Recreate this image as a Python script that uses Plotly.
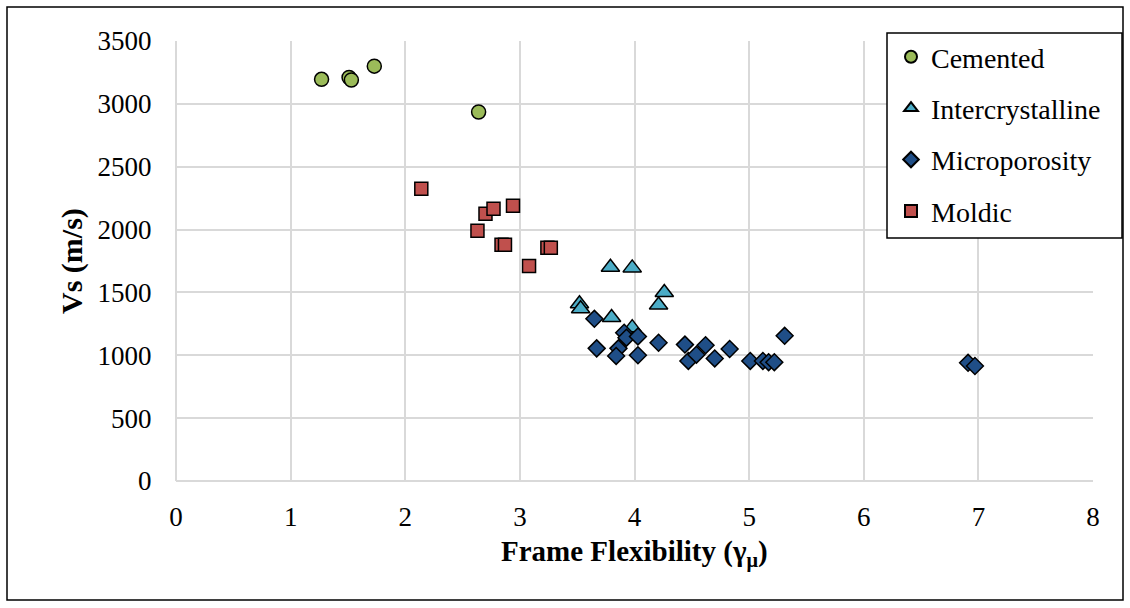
import plotly.graph_objects as go

# ---- data ----
cemented_x = [1.27, 1.51, 1.53, 1.73, 2.64]
cemented_y = [3195, 3210, 3190, 3300, 2935]

intercrystalline_x = [3.79, 3.98, 4.26, 4.21, 3.52, 3.53, 3.80, 3.98]
intercrystalline_y = [1700, 1695, 1500, 1400, 1410, 1370, 1300, 1220]

microporosity_x = [3.65, 3.91, 3.93, 4.03, 4.21, 4.44, 3.67, 3.86, 3.84, 4.03,
                   4.47, 4.54, 4.62, 4.70, 4.83, 5.01, 5.12, 5.17, 5.22, 5.31,
                   6.91, 6.97]
microporosity_y = [1290, 1180, 1140, 1150, 1100, 1085, 1055, 1055, 995, 1000,
                   955, 1005, 1080, 975, 1050, 955, 955, 945, 945, 1155,
                   940, 915]

moldic_x = [2.14, 2.70, 2.77, 2.94, 2.63, 2.84, 2.87, 3.08, 3.24, 3.27]
moldic_y = [2325, 2125, 2165, 2190, 1990, 1880, 1880, 1710, 1855, 1855]

series_names = ["Cemented", "Intercrystalline", "Microporosity", "Moldic"]
x_ticks = [0, 1, 2, 3, 4, 5, 6, 7, 8]
y_ticks = [0, 500, 1000, 1500, 2000, 2500, 3000, 3500]

FONT = "Liberation Serif"

styles = {
    "Cemented": dict(symbol="circle", color="#9BBB59", size=14),
    "Intercrystalline": dict(symbol="triangle-up", color="#4BACC6", size=16),
    "Microporosity": dict(symbol="diamond", color="#1F4E87", size=13),
    "Moldic": dict(symbol="square", color="#C0504D", size=13),
}
data = {
    "Cemented": (cemented_x, cemented_y),
    "Intercrystalline": (intercrystalline_x, intercrystalline_y),
    "Microporosity": (microporosity_x, microporosity_y),
    "Moldic": (moldic_x, moldic_y),
}

fig = go.Figure()
for name in series_names:
    xs, ys = data[name]
    st = styles[name]
    fig.add_trace(go.Scatter(
        x=xs, y=ys, mode="markers", name=name, legendgroup=name,
        marker=dict(symbol=st["symbol"], color=st["color"], size=st["size"],
                    line=dict(color="black", width=1.5)),
    ))

L, R, T, B = 176, 37, 41, 127
W, H = 1130, 608
pw, ph = W - L - R, H - T - B

def px_x(p):
    return (p - L) / pw

def px_y(p):
    return (H - B - p) / ph

fig.update_layout(
    width=W, height=H,
    margin=dict(l=L, r=R, t=T, b=B),
    paper_bgcolor="white", plot_bgcolor="white",
    font=dict(family=FONT, color="black", size=27),
    showlegend=True,
    legend=dict(
        x=px_x(891), y=px_y(32), xanchor="left", yanchor="top",
        borderwidth=0, bgcolor="rgba(0,0,0,0)",
        font=dict(family=FONT, size=28, color="black"),
        traceorder="grouped", tracegroupgap=12,
        itemsizing="constant",
    ),
    xaxis=dict(
        range=[0, 8], tickvals=x_ticks, ticktext=[str(v) for v in x_ticks],
        showgrid=True, gridcolor="#D9D9D9", gridwidth=1.5,
        zeroline=True, zerolinecolor="#D9D9D9", zerolinewidth=1.5,
        showline=False,
        ticks="outside", ticklen=12, tickcolor="rgba(0,0,0,0)",
        tickfont=dict(family=FONT, size=27, color="black"),
    ),
    yaxis=dict(
        range=[0, 3500], tickvals=y_ticks, ticktext=[str(v) for v in y_ticks],
        showgrid=True, gridcolor="#D9D9D9", gridwidth=1.5,
        zeroline=True, zerolinecolor="#D9D9D9", zerolinewidth=1.5,
        showline=False,
        ticks="outside", ticklen=18, tickcolor="rgba(0,0,0,0)",
        tickfont=dict(family=FONT, size=27, color="black"),
    ),
    annotations=[
        dict(text="<b>Frame Flexibility (γ<sub>μ</sub>)</b>", xref="paper", yref="paper",
             x=px_x(634), y=px_y(553), xanchor="center", yanchor="middle",
             showarrow=False, font=dict(family=FONT, size=29, color="black")),
        dict(text="<b>Vs (m/s)</b>", xref="paper", yref="paper",
             x=px_x(72), y=px_y(261), xanchor="center", yanchor="middle",
             textangle=-90, showarrow=False,
             font=dict(family=FONT, size=30, color="black")),
    ],
    shapes=[
        dict(type="rect", xref="paper", yref="paper",
             x0=px_x(7), x1=px_x(1123), y0=px_y(600), y1=px_y(7),
             line=dict(color="black", width=1.5), fillcolor="rgba(0,0,0,0)",
             layer="below"),
        dict(type="rect", xref="paper", yref="paper",
             x0=px_x(887), x1=px_x(1122), y0=px_y(238), y1=px_y(33),
             line=dict(color="black", width=1.5), fillcolor="white",
             layer="above"),
    ],
)

fig.write_html("out.html", config={"displayModeBar": False},
               post_script="document.body.style.margin='0px';")
